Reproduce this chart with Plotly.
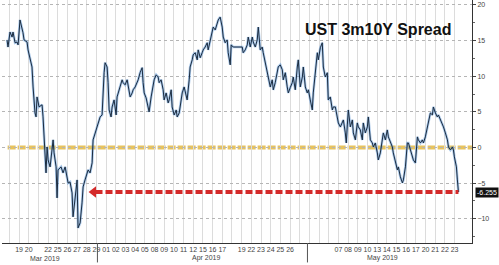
import plotly.graph_objects as go

# ---- data ----
days = ["Mar 18", "Mar 19", "Mar 20", "Mar 21", "Mar 22", "Mar 25", "Mar 26", "Mar 27", "Mar 28", "Mar 29",
        "Apr 01", "Apr 02", "Apr 03", "Apr 04", "Apr 05", "Apr 08", "Apr 09", "Apr 10", "Apr 11", "Apr 12",
        "Apr 15", "Apr 16", "Apr 17", "Apr 18", "Apr 19", "Apr 22", "Apr 23", "Apr 24", "Apr 25", "Apr 26",
        "Apr 29", "Apr 30", "May 01", "May 06", "May 07", "May 08", "May 09", "May 10", "May 13", "May 14",
        "May 15", "May 16", "May 17", "May 20", "May 21", "May 22", "May 23"]
day_labels = ["", "19", "20", "", "22", "25", "26", "27", "28", "29",
              "01", "02", "03", "04", "05", "08", "09", "10", "11", "12",
              "15", "16", "17", "", "19", "22", "23", "24", "25", "26",
              "", "", "", "", "07", "08", "09", "10", "13", "14",
              "15", "16", "17", "20", "21", "22", "23"]
months = ["Mar 2019", "Apr 2019", "May 2019"]
month_centers = [4.2, 20.9, 39.1]
month_breaks = [9.6, 31.3]

# time in trading days (fractional, intraday) and spread in bp
t = [0.26, 0.36, 0.57, 0.78, 0.88, 1.09, 1.29, 1.40, 1.60, 1.81, 1.91, 2.02, 2.33, 2.43, 2.64, 2.84, 2.95, 3.05, 3.15, 3.26,
     3.36, 3.57, 3.88, 3.98, 4.09, 4.19, 4.29, 4.40, 4.50, 4.71, 4.91, 5.02, 5.12, 5.33, 5.43, 5.53, 5.84, 6.05, 6.26, 6.46,
     6.57, 6.77, 6.98, 7.08, 7.29, 7.50, 7.60, 7.81, 8.01, 8.12, 8.32, 8.53, 8.64, 8.84, 9.05, 9.15, 9.36, 9.57, 9.67, 9.88,
     10.08, 10.19, 10.29, 10.39, 10.60, 10.70, 10.81, 11.01, 11.12, 11.32, 11.53, 11.63, 11.84, 12.15, 12.25, 12.46, 12.67, 12.77, 12.98, 13.19,
     13.29, 13.50, 13.70, 13.81, 14.01, 14.22, 14.32, 14.43, 14.63, 14.84, 14.94, 15.15, 15.36, 15.46, 15.67, 15.87, 15.98, 16.18, 16.39, 16.49,
     16.70, 16.91, 17.01, 17.22, 17.32, 17.53, 17.74, 17.84, 18.05, 18.25, 18.36, 18.56, 18.77, 18.87, 19.08, 19.18, 19.39, 19.49, 19.70, 19.91,
     20.01, 20.22, 20.42, 20.53, 20.73, 20.94, 21.04, 21.25, 21.46, 21.56, 21.77, 21.97, 22.08, 22.28, 22.49, 22.60, 22.80, 23.01, 23.11, 23.32,
     23.42, 23.63, 24.56, 24.66, 24.87, 25.08, 25.18, 25.39, 25.60, 25.70, 25.91, 26.11, 26.22, 26.42, 26.63, 26.73, 26.94, 27.15, 27.25, 27.46,
     27.66, 27.77, 27.97, 28.18, 28.28, 28.49, 28.70, 28.80, 29.01, 29.21, 29.32, 29.52, 29.73, 29.83, 30.04, 30.25, 30.35, 30.56, 30.77, 30.87,
     31.08, 31.28, 31.39, 31.59, 31.80, 31.90, 32.11, 32.32, 32.42, 32.63, 32.83, 32.94, 33.14, 33.35, 33.45, 33.66, 33.87, 33.97, 34.18, 34.38,
     34.49, 34.70, 34.90, 35.01, 35.21, 35.31, 35.42, 35.52, 35.73, 35.94, 36.04, 36.25, 36.45, 36.56, 36.76, 36.97, 37.07, 37.28, 37.49, 37.59,
     37.80, 38.00, 38.11, 38.31, 38.52, 38.62, 38.83, 39.04, 39.14, 39.35, 39.55, 39.66, 39.86, 40.07, 40.17, 40.38, 40.59, 40.69, 40.90, 41.11,
     41.21, 41.42, 41.62, 41.73, 41.93, 42.14, 42.24, 42.45, 42.66, 42.76, 42.97, 43.17, 43.28, 43.48, 43.69, 43.79, 44.00, 44.21, 44.31, 44.52,
     44.72, 44.83, 45.04, 45.24, 45.35, 45.55, 45.76, 45.87, 46.07, 46.28, 46.38, 46.48, 46.69, 46.79, 46.90]
spread = [15.1, 14.1, 16.2, 15.5, 16.2, 14.7, 14.8, 14.4, 17.9, 16.9, 16.1, 15.1, 14.8, 13.7, 12.6, 11.3, 8.5, 6.7, 4.85, 4.3,
          7.1, 5.7, 6.0, 4.3, 2.05, -0.34, -3.56, 0.08, -1.74, -2.72, -0.34, 1.07, -0.76, -2.72, -7.07, -3.14, -2.72, -3.56, -2.72, -4.12,
          -4.97, -4.83, -6.37, -9.73, -7.35, -4.55, -11.28, -10.58, -7.77, -5.53, -4.55, -3.56, -3.14, -3.56, -2.16, 1.07, 2.05, 2.89, 3.45, 4.29,
          4.57, 8.1, 10.5, 11.9, 11.3, 9.1, 5.27, 4.29, 5.69, 6.68, 4.57, 7.1, 8.1, 9.5, 9.1, 8.8, 9.5, 8.5, 7.1, 7.66,
          8.1, 8.5, 9.1, 9.5, 10.5, 11.2, 9.1, 7.66, 6.96, 5.69, 5.0, 7.1, 8.5, 9.5, 10.2, 9.9, 9.1, 9.5, 8.1, 6.68,
          7.66, 6.26, 6.68, 8.1, 5.69, 4.57, 5.27, 4.29, 4.85, 6.68, 7.66, 8.5, 6.96, 6.68, 9.5, 11.3, 12.3, 13.0, 13.3, 12.3,
          13.7, 12.6, 13.3, 13.7, 14.1, 14.7, 13.7, 15.1, 16.1, 16.9, 16.5, 17.5, 17.9, 18.3, 16.9, 15.5, 14.7, 15.1, 13.3, 11.6,
          14.4, 14.1, 14.1, 13.3, 13.7, 14.4, 15.5, 14.1, 15.5, 14.8, 14.1, 15.1, 16.9, 13.7, 14.1, 13.3, 11.9, 10.9, 9.9, 8.5,
          9.5, 8.1, 9.1, 10.5, 11.3, 11.6, 10.9, 9.5, 10.5, 8.5, 7.66, 8.4, 9.1, 9.9, 8.1, 11.3, 12.3, 8.5, 9.9, 11.3,
          8.5, 7.66, 8.1, 6.68, 5.27, 7.66, 10.5, 13.3, 12.3, 14.0, 14.7, 11.3, 9.9, 10.5, 6.68, 7.1, 5.27, 5.69, 5.69, 4.29,
          3.45, 2.89, 3.45, 3.87, 2.05, 0.64, 3.17, 5.27, 2.89, 3.87, 2.05, 1.07, 3.45, 2.89, 2.47, 1.07, 3.45, 2.05, 2.89, 4.29,
          1.07, 0.64, 0.08, 0.64, -0.76, -1.74, -0.76, 1.07, 2.05, 1.07, 2.47, 1.49, 0.64, 0.08, -0.76, -2.16, -3.14, -2.72, -4.12, -4.97,
          -4.55, -2.72, 0.64, 0.64, -0.34, -1.32, -1.74, -2.16, 1.49, 1.07, 0.64, 1.07, 0.64, 1.49, 2.89, 3.87, 4.85, 4.57, 5.69, 4.85,
          4.29, 4.57, 3.87, 3.45, 2.89, 2.05, 1.07, 0.08, -0.34, 0.08, -0.34, -1.32, -2.72, -4.55, -6.255]

title_text = "UST 3m10Y Spread"
y_ticks = [-10, -5, 0, 5, 10, 15, 20]
arrow_start = 8.9  # trading-day position of the red arrow tip

last_val = spread[-1]
last_t = t[-1]

fig = go.Figure()

# light blue under-stroke and dark line
fig.add_trace(go.Scatter(x=t, y=spread, mode="lines",
                         line=dict(color="rgba(90,150,215,0.5)", width=2.6), hoverinfo="skip"))
fig.add_trace(go.Scatter(x=t, y=spread, mode="lines",
                         line=dict(color="#1b2c40", width=1), hoverinfo="skip"))

# zero line (yellow dashed)
fig.add_shape(type="line", xref="paper", yref="y", x0=0.012, x1=1, y0=0, y1=0,
              line=dict(color="#E7C35E", width=4, dash="8px,2px"), layer="between")

# red dashed line with arrow head at the last value
fig.add_shape(type="line", xref="x", yref="y", x0=arrow_start + 0.5, x1=last_t, y0=last_val, y1=last_val,
              line=dict(color="#D42A2A", width=4, dash="7px,3px"))
fig.add_trace(go.Scatter(x=[arrow_start + 0.3], y=[last_val], mode="markers",
                         marker=dict(symbol="triangle-left", size=10, color="#D42A2A"), hoverinfo="skip"))

# month separators
for mb in month_breaks:
    fig.add_shape(type="line", xref="x", yref="paper", x0=mb, x1=mb, y0=0, y1=-0.08,
                  line=dict(color="#555", width=1))

# month labels
for m, c in zip(months, month_centers):
    fig.add_annotation(x=c, y=0, xref="x", yref="paper", yshift=-15, text=m, showarrow=False,
                       font=dict(family="Liberation Sans", size=7, color="#444"), yanchor="middle")

# title
fig.add_annotation(x=0.64, y=0.877, xref="paper", yref="paper", text="<b>" + title_text + "</b>",
                   showarrow=False, xanchor="left", yanchor="middle",
                   font=dict(family="Liberation Sans", size=16, color="#111"))

# last value tag
fig.add_annotation(x=1, y=last_val, xref="paper", yref="y", xanchor="left", xshift=3,
                   text=f"{last_val:.3f}", showarrow=False, bgcolor="#111", borderpad=1,
                   font=dict(family="Liberation Sans", size=7, color="white"))

fig.update_layout(
    width=499, height=265, autosize=False,
    margin=dict(l=2, r=27, t=0, b=22),
    paper_bgcolor="white", plot_bgcolor="white",
    showlegend=False,
    xaxis=dict(range=[-0.26, 48.3], tickmode="array",
               tickvals=[i + 0.5 for i in range(len(days))], ticktext=day_labels,
               tickangle=0, ticks="", showgrid=True, gridcolor="#dcdcdc", gridwidth=1,
               showline=True, linecolor="#333", linewidth=1, zeroline=False,
               tickfont=dict(family="Liberation Sans", size=7, color="#444")),
    yaxis=dict(range=[-13.4, 20.7], side="right", tickmode="array", tickvals=y_ticks,
               ticks="outside", ticklen=3, tickcolor="#444",
               minor=dict(dtick=2.5, ticks="outside", ticklen=2, tickcolor="#666", showgrid=False),
               showgrid=True, gridcolor="#b5b5b5", griddash="dot", gridwidth=1,
               showline=True, linecolor="#333", linewidth=1, zeroline=False,
               tickfont=dict(family="Liberation Sans", size=7, color="#444")),
)

fig.write_html("out.html")
